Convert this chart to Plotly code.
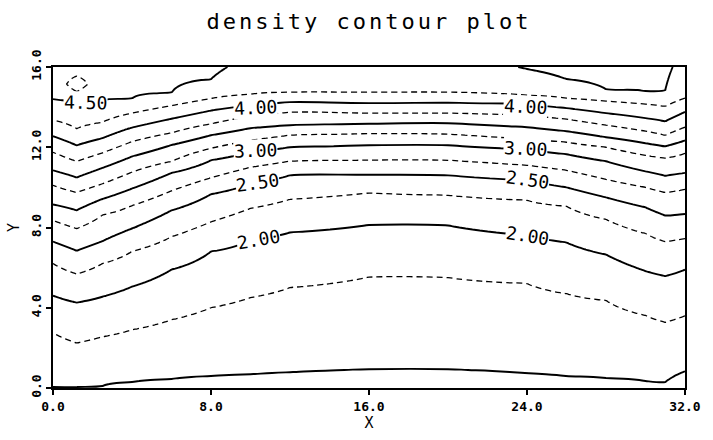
import numpy as np
import plotly.graph_objects as go

# ---------------- data ----------------
# columns (X positions) at which contour heights were read
X_COLS = [0, 1.2, 2.5, 4, 6, 8, 10, 12, 16, 20, 24, 26, 28, 30, 31, 32]

# contour levels whose heights were read at each column
LEVELS = [1.50, 1.75, 2.00, 2.25, 2.50, 2.75, 3.00, 3.25, 3.50, 3.75, 4.00, 4.25]

# height (Y) of each contour level at every column of X_COLS
H_150 = [0.02, 0.04, 0.10, 0.30, 0.45, 0.60, 0.68, 0.78, 0.93, 0.93, 0.73, 0.59, 0.50, 0.35, 0.30, 0.83]
H_175 = [2.75, 2.25, 2.55, 2.90, 3.40, 4.00, 4.50, 5.00, 5.53, 5.50, 5.20, 4.70, 4.36, 3.62, 3.28, 3.60]
H_200 = [4.60, 4.26, 4.55, 5.05, 5.90, 6.80, 7.40, 7.75, 8.13, 8.10, 7.60, 7.25, 6.65, 5.83, 5.58, 5.90]
H_225 = [6.20, 5.68, 6.20, 6.81, 7.54, 8.28, 8.95, 9.40, 9.72, 9.60, 9.35, 9.05, 8.40, 7.70, 7.30, 7.45]
H_250 = [7.30, 6.85, 7.32, 7.95, 8.85, 9.66, 10.20, 10.60, 10.63, 10.60, 10.35, 10.00, 9.50, 9.00, 8.60, 8.67]
H_275 = [8.35, 7.95, 8.62, 9.09, 9.83, 10.48, 11.00, 11.30, 11.36, 11.35, 11.10, 10.85, 10.40, 10.00, 9.75, 9.90]
H_300 = [9.15, 8.86, 9.42, 9.94, 10.72, 11.35, 11.75, 12.00, 12.10, 12.10, 11.90, 11.65, 11.30, 10.80, 10.58, 10.72]
H_325 = [10.10, 9.75, 10.18, 10.76, 11.30, 11.95, 12.35, 12.60, 12.68, 12.65, 12.40, 12.25, 12.00, 11.60, 11.46, 11.70]
H_350 = [10.85, 10.50, 10.97, 11.54, 12.11, 12.60, 12.95, 13.10, 13.17, 13.20, 13.00, 12.80, 12.50, 12.20, 12.05, 12.34]
H_375 = [11.75, 11.30, 11.72, 12.28, 12.72, 13.17, 13.55, 13.76, 13.70, 13.70, 13.60, 13.40, 13.10, 12.80, 12.60, 13.00]
H_400 = [12.55, 12.10, 12.45, 12.98, 13.42, 13.83, 14.10, 14.25, 14.20, 14.22, 14.15, 13.95, 13.70, 13.45, 13.30, 13.76]
H_425 = [13.35, 12.93, 13.25, 13.70, 14.07, 14.43, 14.65, 14.74, 14.74, 14.74, 14.60, 14.45, 14.30, 14.15, 14.05, 14.45]
# the 4.50 contour exists only near the two upper corners (None = not crossed)
H_450 = [14.40, 14.30, 14.35, 14.43, 14.72, 15.40, None, None, None, None, 15.90, 15.40, 14.90, 14.80, 14.85, None]

# density along the bottom (Y=0) and top (Y=16) edges
Z_BOTTOM = [1.45, 1.45, 1.42, 1.40, 1.40, 1.40, 1.40, 1.40, 1.40, 1.40, 1.40, 1.40, 1.40, 1.40, 1.40, 1.40]
Z_TOP = [4.60, 4.65, 4.60, 4.60, 4.58, 4.55, 4.43, 4.43, 4.43, 4.42, 4.51, 4.58, 4.62, 4.62, 4.56, 4.40]

# small closed 4.75 contour near the upper-left corner
PEAK_X = 1.2
PEAK_Y = [14.78, 15.15, 15.55]
PEAK_Z = [4.75, 4.90, 4.75]

# labels written on the contours: (text, x, y, angle)
LABEL_TEXT = ["4.50", "4.00", "3.00", "2.50", "2.00", "4.00", "3.00", "2.50", "2.00"]
LABEL_X = [1.65, 10.25, 10.25, 10.35, 10.4, 23.9, 23.9, 24.0, 24.0]
LABEL_Y = [14.25, 14.0, 11.85, 10.23, 7.4, 14.05, 11.95, 10.38, 7.6]
LABEL_ANGLE = [1, -3, -2, -8, -10, 3, 3, 8, 9]

X_TICKS = [0, 8, 16, 24, 32]
X_TICK_TEXT = ["0.0", "8.0", "16.0", "24.0", "32.0"]
Y_TICKS = [0, 4, 8, 12, 16]
Y_TICK_TEXT = ["0.0", "4.0", "8.0", "12.0", "16.0"]

# ---------------- build the density table for the contour traces ----------------
heights = [H_150, H_175, H_200, H_225, H_250, H_275, H_300, H_325, H_350, H_375, H_400, H_425]
y_grid = np.linspace(0, 16, 321)
Z = np.empty((len(y_grid), len(X_COLS)))
for j, xc in enumerate(X_COLS):
    knots = [(0.0, Z_BOTTOM[j])]
    knots += [(h[j], lev) for h, lev in zip(heights, LEVELS)]
    if H_450[j] is not None:
        knots.append((H_450[j], 4.50))
    if xc == PEAK_X:
        knots += list(zip(PEAK_Y, PEAK_Z))
    knots.append((16.0, Z_TOP[j]))
    knots.sort()
    ky = [k[0] for k in knots]
    kz = [k[1] for k in knots]
    Z[:, j] = np.interp(y_grid, ky, kz)

MONO = "DejaVu Sans Mono"

fig = go.Figure()
fig.add_trace(go.Contour(
    x=X_COLS, y=y_grid, z=Z, autocontour=False,
    contours=dict(start=1.5, end=4.5, size=0.5, coloring="none", showlabels=False),
    line=dict(color="black", width=1.9, smoothing=1.3),
    showscale=False, hoverinfo="skip",
))
fig.add_trace(go.Contour(
    x=X_COLS, y=y_grid, z=Z, autocontour=False,
    contours=dict(start=1.75, end=4.75, size=0.5, coloring="none", showlabels=False),
    line=dict(color="black", width=1.3, dash="6px,4px", smoothing=1.3),
    showscale=False, hoverinfo="skip",
))

for t, lx, ly, ang in zip(LABEL_TEXT, LABEL_X, LABEL_Y, LABEL_ANGLE):
    fig.add_annotation(x=lx, y=ly, xref="x", yref="y", text=t, showarrow=False,
                       textangle=ang, bgcolor="white", borderpad=0,
                       font=dict(family=MONO, size=18, color="black"))

axis_common = dict(showline=True, linewidth=2, linecolor="black", mirror=True,
                   ticks="outside", ticklen=5, tickwidth=1.5, tickcolor="black",
                   showgrid=False, zeroline=False,
                   tickfont=dict(family=MONO, size=13, color="black", weight="bold"))

fig.update_layout(
    width=713, height=440,
    margin=dict(l=50, r=23, t=67, b=46),
    paper_bgcolor="white", plot_bgcolor="white",
    showlegend=False,
    title=dict(text='<span style="letter-spacing:3px">density contour plot</span>',
               x=0.5, xref="paper", y=1 - 21 / 440, yref="container",
               xanchor="center", yanchor="middle",
               font=dict(family=MONO, size=22, color="black")),
    xaxis=dict(range=[0, 32], tickvals=X_TICKS, ticktext=X_TICK_TEXT,
               title=dict(text="X", standoff=4, font=dict(family=MONO, size=15, color="black")),
               **axis_common),
    yaxis=dict(range=[0, 16], tickvals=Y_TICKS, ticktext=Y_TICK_TEXT, tickangle=-90,
               title=dict(text="Y", standoff=6, font=dict(family=MONO, size=15, color="black")),
               **axis_common),
)

fig.write_html("out.html")
